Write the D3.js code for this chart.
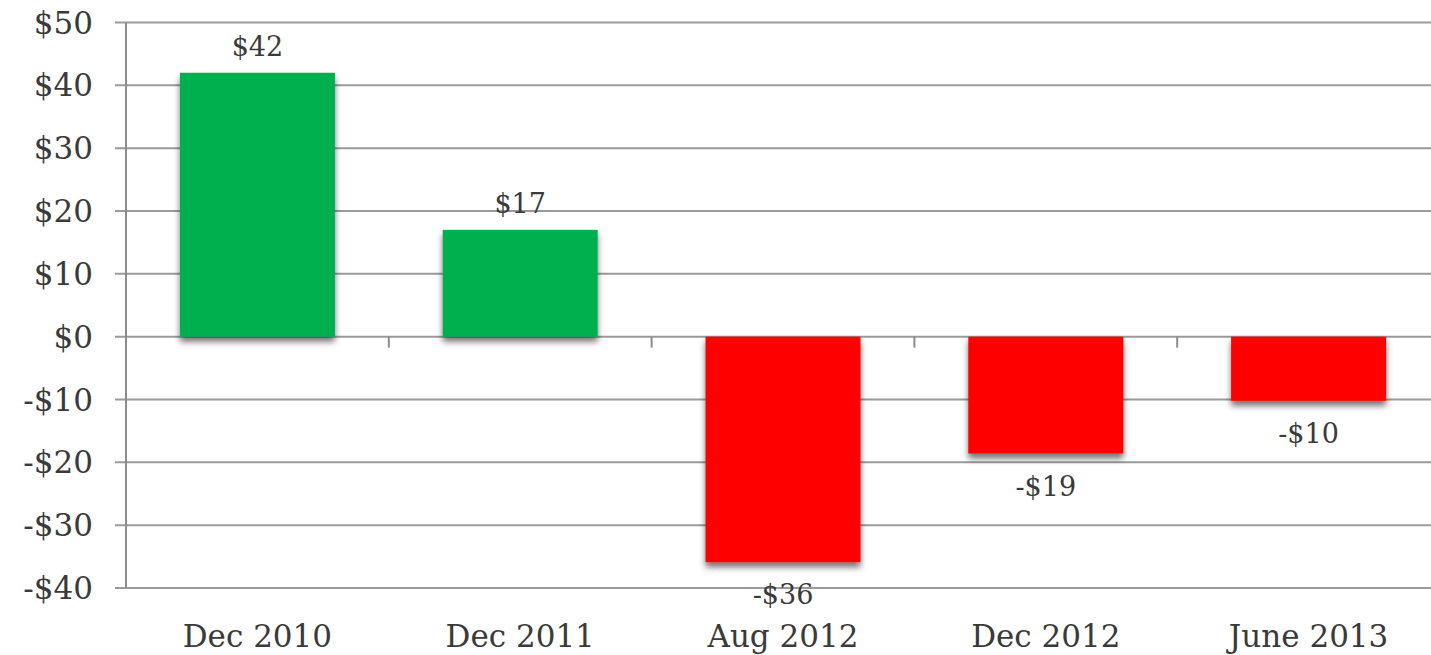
<!DOCTYPE html>
<html>
<head>
<meta charset="utf-8">
<script src="https://cdnjs.cloudflare.com/ajax/libs/d3/7.8.5/d3.min.js"></script>
<style>
  body { margin: 0; background: #fff; }
  svg { display: block; }
  text { font-family: "DejaVu Serif", "Liberation Serif", serif; fill: #3a3a3a; }
</style>
</head>
<body>
<div id="chart"></div>
<script>
var categories = ['Dec 2010', 'Dec 2011', 'Aug 2012', 'Dec 2012', 'June 2013'];
var values = [42, 17, -35.9, -18.6, -10.2];
var yTicks = [-40, -30, -20, -10, 0, 10, 20, 30, 40, 50];

(function () {
  var width = 1431, height = 655;
  var plotLeft = 126, plotTop = 22.5, plotBottom = 588;

  var svg = d3.select('#chart').append('svg')
    .attr('width', width)
    .attr('height', height);

  var defs = svg.append('defs');
  var shadow = defs.append('filter')
    .attr('id', 'shadow')
    .attr('x', '-10%').attr('y', '-10%')
    .attr('width', '120%').attr('height', '140%');
  shadow.append('feDropShadow')
    .attr('dx', 0).attr('dy', 5)
    .attr('stdDeviation', 3)
    .attr('flood-color', '#000')
    .attr('flood-opacity', 0.55);

  var x = d3.scaleBand()
    .domain(categories)
    .range([plotLeft, plotLeft + 5 * 262.8])
    .paddingInner(0)
    .paddingOuter(0);

  var y = d3.scaleLinear()
    .domain([-40, 50])
    .range([plotBottom, plotTop]);

  // gridlines
  svg.append('g').selectAll('line')
    .data(yTicks)
    .enter().append('line')
    .attr('x1', plotLeft - 11)
    .attr('x2', width)
    .attr('y1', function (d) { return y(d); })
    .attr('y2', function (d) { return y(d); })
    .attr('stroke', '#9a9a9a')
    .attr('stroke-width', 2);

  // y axis line
  svg.append('line')
    .attr('x1', plotLeft).attr('x2', plotLeft)
    .attr('y1', y(50)).attr('y2', y(-40))
    .attr('stroke', '#8c8c8c')
    .attr('stroke-width', 2);

  // category ticks on zero line
  svg.append('g').selectAll('line')
    .data(categories.slice(1))
    .enter().append('line')
    .attr('x1', function (d) { return x(d); })
    .attr('x2', function (d) { return x(d); })
    .attr('y1', y(0))
    .attr('y2', y(0) + 11)
    .attr('stroke', '#8c8c8c')
    .attr('stroke-width', 2);

  // y tick labels
  svg.append('g').selectAll('text')
    .data(yTicks)
    .enter().append('text')
    .attr('x', 93)
    .attr('y', function (d) { return y(d) + 11; })
    .attr('text-anchor', 'end')
    .style('font-size', '31px')
    .text(function (d) { return (d < 0 ? '-$' : '$') + Math.abs(d); });

  // bars
  var barW = 155;
  svg.append('g').selectAll('rect')
    .data(values)
    .enter().append('rect')
    .attr('x', function (d, i) { return x(categories[i]) + (x.bandwidth() - barW) / 2; })
    .attr('y', function (d) { return d >= 0 ? y(d) : y(0); })
    .attr('width', barW)
    .attr('height', function (d) { return Math.abs(y(d) - y(0)); })
    .attr('fill', function (d) { return d >= 0 ? '#00b050' : '#ff0000'; })
    .attr('filter', 'url(#shadow)');

  // value labels
  svg.append('g').selectAll('text')
    .data(values)
    .enter().append('text')
    .attr('x', function (d, i) { return x(categories[i]) + x.bandwidth() / 2; })
    .attr('y', function (d) { return d >= 0 ? y(d) - 17 : y(d) + 42; })
    .attr('text-anchor', 'middle')
    .style('font-size', '27px')
    .text(function (d) {
      var r = Math.round(d);
      return (r < 0 ? '-$' : '$') + Math.abs(r);
    });

  // category labels
  svg.append('g').selectAll('text')
    .data(categories)
    .enter().append('text')
    .attr('x', function (d) { return x(d) + x.bandwidth() / 2; })
    .attr('y', 647)
    .attr('text-anchor', 'middle')
    .style('font-size', '31px')
    .text(function (d) { return d; });
})();
</script>
</body>
</html>
